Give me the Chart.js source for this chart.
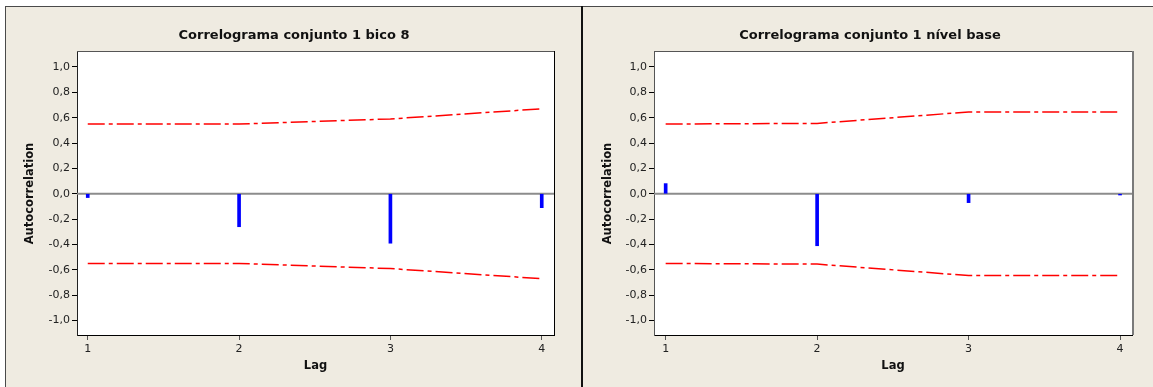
<!DOCTYPE html>
<html><head><meta charset="utf-8">
<script src="https://cdn.jsdelivr.net/npm/chart.js@4/dist/chart.umd.min.js"></script>
<style>
body{margin:0;background:#fff;width:1153px;height:387px;overflow:hidden;position:relative;font-family:"DejaVu Sans"}
#frame{position:absolute;left:5px;top:6px;width:1148px;height:381px;background:#efebe1;border-top:1px solid #4a4a4a;border-left:1px solid #4a4a4a;box-sizing:border-box}
#divider{position:absolute;left:581px;top:6px;width:2px;height:381px;background:#111}
.wrap{position:absolute;top:7px;height:380px}
</style></head><body>
<div id="frame"></div><div id="divider"></div>
<div class="wrap" style="left:7px;width:574px"><canvas id="c1" width="574" height="380"></canvas></div>
<div class="wrap" style="left:583px;width:570px"><canvas id="c2" width="570" height="380"></canvas></div>
<script>
const lags = [1, 2, 3, 4];
const xTickLabels = ['1', '2', '3', '4'];
const yTickValues = [-1.0, -0.8, -0.6, -0.4, -0.2, 0.0, 0.2, 0.4, 0.6, 0.8, 1.0];
const yTickLabels = ['-1,0', '-0,8', '-0,6', '-0,4', '-0,2', '0,0', '0,2', '0,4', '0,6', '0,8', '1,0'];

const title1 = 'Correlograma conjunto 1 bico 8';
const acf1 = [-0.03, -0.26, -0.39, -0.11];
const upper1 = [0.55, 0.55, 0.59, 0.67];
const lower1 = [-0.55, -0.55, -0.59, -0.67];

const title2 = 'Correlograma conjunto 1 nível base';
const acf2 = [0.08, -0.41, -0.07, -0.01];
const upper2 = [0.55, 0.555, 0.645, 0.645];
const lower2 = [-0.55, -0.555, -0.645, -0.645];

const FONT = 'DejaVu Sans';

const framePlugin = {
  id: 'frame',
  beforeDraw(chart, args, o) {
    const {ctx, chartArea: a} = chart;
    ctx.save();
    ctx.fillStyle = '#ffffff';
    ctx.fillRect(a.left, a.top, a.right - a.left, a.bottom - a.top);
    ctx.restore();
  },
  beforeDatasetsDraw(chart, args, o) {
    const {ctx, chartArea: a, scales: {y}} = chart;
    const y0 = y.getPixelForValue(0);
    ctx.save();
    ctx.strokeStyle = '#8c8c8c';
    ctx.lineWidth = 2;
    ctx.beginPath();
    ctx.moveTo(a.left, y0);
    ctx.lineTo(a.right, y0);
    ctx.stroke();
    ctx.restore();
  },
  afterDraw(chart, args, o) {
    const {ctx, chartArea: a} = chart;
    ctx.save();
    ctx.lineWidth = 1;
    ctx.strokeStyle = o.topColor;
    ctx.beginPath();
    ctx.moveTo(a.left, a.top - 0.5);
    ctx.lineTo(a.right + o.rightWidth, a.top - 0.5);
    ctx.stroke();
    ctx.lineWidth = o.rightWidth;
    ctx.strokeStyle = o.rightColor;
    ctx.beginPath();
    ctx.moveTo(a.right + o.rightWidth / 2, a.top - 1);
    ctx.lineTo(a.right + o.rightWidth / 2, a.bottom);
    ctx.stroke();
    ctx.fillStyle = '#111';
    ctx.font = 'bold 13px "' + FONT + '"';
    ctx.textAlign = 'center';
    ctx.textBaseline = 'alphabetic';
    ctx.fillText(o.title, chart.width / 2 + o.titleShift, 32);
    ctx.restore();
  }
};

function makeChart(id, titleText, acf, upper, lower, opt) {
  const pts = arr => lags.map((l, i) => ({x: l, y: arr[i]}));
  return new Chart(document.getElementById(id), {
    type: 'bar',
    data: {
      datasets: [
        {type: 'line', data: pts(upper), borderColor: '#ff0000', borderWidth: 1.5, borderDash: [17, 4, 4, 4], pointRadius: 0, tension: 0, fill: false, order: 2},
        {type: 'line', data: pts(lower), borderColor: '#ff0000', borderWidth: 1.5, borderDash: [17, 4, 4, 4], pointRadius: 0, tension: 0, fill: false, order: 2},
        {type: 'bar', data: pts(acf), backgroundColor: '#0000ff', borderWidth: 0, barThickness: 3, order: 1}
      ]
    },
    plugins: [framePlugin],
    options: {
      responsive: false,
      animation: false,
      layout: {padding: {top: 45, left: 0, right: opt.padRight, bottom: 0}},
      plugins: {
        legend: {display: false},
        tooltip: {enabled: false},
        title: {display: false},
        frame: Object.assign({title: titleText}, opt.frame)
      },
      scales: {
        x: {
          type: 'linear', min: opt.xmin, max: opt.xmax, offset: false,
          afterFit: s => { s.height = 52; },
          afterBuildTicks: s => { s.ticks = lags.map(v => ({value: v})); },
          ticks: {callback: (v, i) => xTickLabels[i], color: '#222', font: {family: FONT, size: 11}, padding: 3, maxRotation: 0, autoSkip: false},
          grid: {drawOnChartArea: false, drawTicks: true, tickLength: 5, color: '#555', offset: false},
          border: {display: true, color: '#000', width: 1},
          title: {display: true, text: 'Lag', color: '#111', font: {family: FONT, size: 11.5, weight: 'bold'}, padding: {top: 0, bottom: 14}}
        },
        y: {
          type: 'linear', min: -1.114, max: 1.118,
          afterFit: s => { s.width = opt.yWidth; },
          afterBuildTicks: s => { s.ticks = yTickValues.map(v => ({value: v})); },
          ticks: {callback: (v, i) => yTickLabels[i], color: '#222', font: {family: FONT, size: 11}, padding: 2, autoSkip: false},
          grid: {drawOnChartArea: false, drawTicks: true, tickLength: 5, color: '#000'},
          border: {display: true, color: opt.leftColor, width: 1},
          title: {display: true, text: 'Autocorrelation', color: '#111', font: {family: FONT, size: 11.5, weight: 'bold'}, padding: {top: opt.yTitlePad, bottom: 0}}
        }
      }
    }
  });
}

makeChart('c1', title1, acf1, upper1, lower1, {padRight: 27, yWidth: 70, xmin: 0.929, xmax: 4.081, yTitlePad: 16, leftColor: '#222', frame: {topColor: '#555', rightColor: '#000', rightWidth: 1, titleShift: 0}});
makeChart('c2', title2, acf2, upper2, lower2, {padRight: 21, yWidth: 71, xmin: 0.923, xmax: 4.079, yTitlePad: 18, leftColor: '#555', frame: {topColor: '#555', rightColor: '#7a7a7a', rightWidth: 2, titleShift: 2}});
</script>
</body></html>
